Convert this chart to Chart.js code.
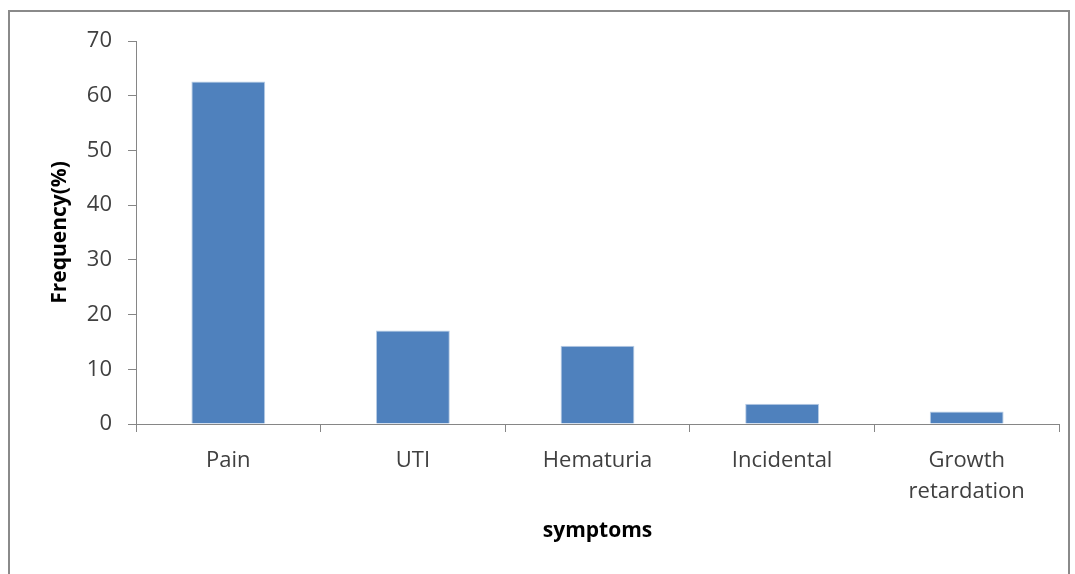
<!DOCTYPE html>
<html>
<head>
<meta charset="utf-8">
<script src="https://cdn.jsdelivr.net/npm/chart.js@4"></script>
<style>
  html, body { margin: 0; padding: 0; background: #fff; }
  #wrap { position: relative; width: 1075px; height: 574px; overflow: hidden; }
  #frame { position: absolute; left: 8px; top: 10px; width: 1062px; height: 600px;
           border: 2px solid #8a8a8a; box-sizing: border-box; }
  canvas { position: absolute; left: 0; top: 0; }
</style>
</head>
<body>
<div id="wrap">
  <div id="frame"></div>
  <canvas id="chart" width="1075" height="574"></canvas>
</div>
<script>
// chart data
const categories = ['Pain', 'UTI', 'Hematuria', 'Incidental', ['Growth', 'retardation']];
const frequency = [62.6, 17.1, 14.3, 3.7, 2.3];
const yTicks = [0, 10, 20, 30, 40, 50, 60, 70];

const axisColor = '#868686';
const textColor = '#404040';
const fontFamily = '"Open Sans", Lato, sans-serif';

const ctx = document.getElementById('chart').getContext('2d');
new Chart(ctx, {
    type: 'bar',
    data: {
        labels: categories,
        datasets: [{
            data: frequency,
            backgroundColor: '#4f81bd',
            borderColor: '#b9cde5',
            borderWidth: 1,
            barPercentage: 0.4,
            categoryPercentage: 1.0
        }]
    },
    options: {
        responsive: false,
        animation: false,
        layout: { padding: { left: 47, top: 41, right: 16, bottom: 30 } },
        plugins: {
            legend: { display: false },
            tooltip: { enabled: false }
        },
        scales: {
            x: {
                grid: { drawOnChartArea: false, drawTicks: true, tickLength: 8, color: axisColor },
                border: { color: axisColor, width: 1 },
                ticks: { color: textColor, font: { family: fontFamily, size: 22, lineHeight: 1.42 }, padding: 13, maxRotation: 0, autoSkip: false },
                title: { display: true, text: 'symptoms', color: '#000', font: { family: fontFamily, size: 21, weight: 'bold' }, padding: 0 },
                afterFit: function(scale) { scale.height = 120; }
            },
            y: {
                min: 0,
                max: 70,
                afterBuildTicks: function(scale) { scale.ticks = yTicks.map(v => ({ value: v })); },
                grid: { drawOnChartArea: false, drawTicks: true, tickLength: 8, color: axisColor },
                border: { color: axisColor, width: 1 },
                ticks: { color: textColor, font: { family: fontFamily, size: 22 }, padding: 16 },
                title: { display: true, text: 'Frequency(%)', color: '#000', font: { family: fontFamily, size: 21, weight: 'bold' }, padding: 0 },
                afterFit: function(scale) { scale.width = 89; }
            }
        }
    }
});
</script>
</body>
</html>
